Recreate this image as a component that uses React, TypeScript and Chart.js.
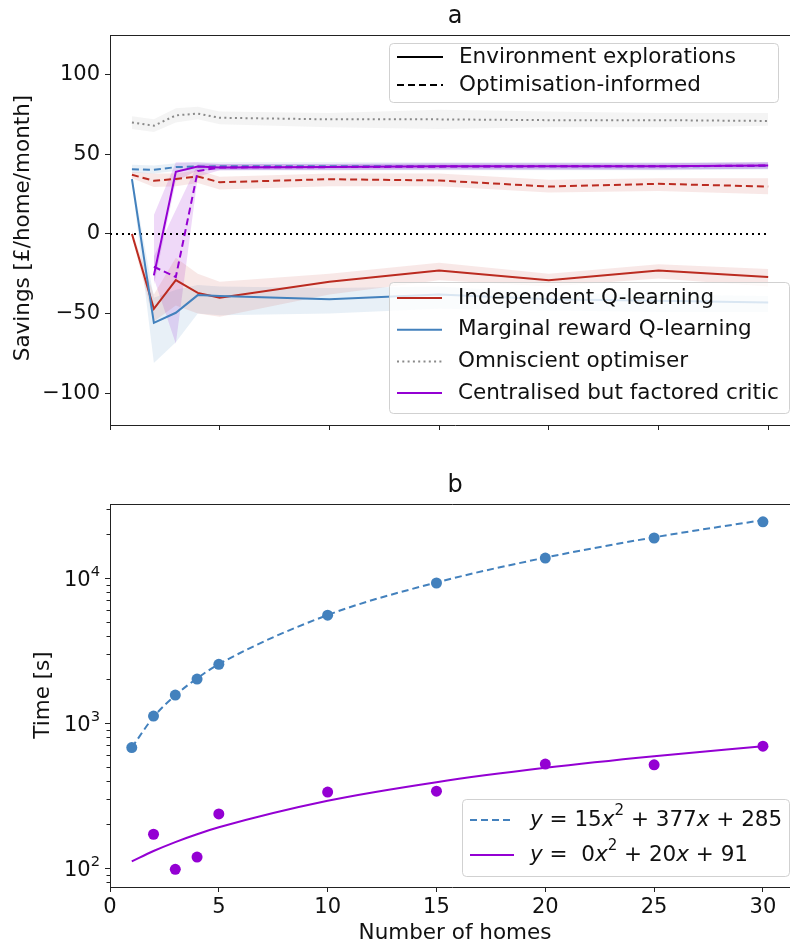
import React, { useEffect, useRef } from 'react';
import { Chart, registerables } from 'chart.js';
Chart.register(...registerables);

const FONT = '"DejaVu Sans", sans-serif';
const TXT = '#111';
const AX = '#222';

// ---------- panel a ----------
const homes = [1, 2, 3, 4, 5, 10, 15, 20, 25, 30];
const savingsTicks = [-100, -50, 0, 50, 100];
const homeTicks = [0, 5, 10, 15, 20, 25, 30];
const zeroLineX = [0, 30];

const iqlEnv = [0, -47, -29, -37, -40, -30, -23, -29, -23, -27];
const iqlEnvLo = [-2, -55, -45, -50, -52, -38, -29, -33, -28, -33];
const iqlEnvHi = [2, -38, -15, -25, -30, -25, -18, -25, -19, -22];

const mrqEnv = [34.4, -55.8, -49.5, -38.4, -39, -41, -38, -41, -42, -43];
const mrqEnvLo = [32, -81, -68, -50, -51, -50, -47, -48, -49, -49];
const mrqEnvHi = [37, -40, -35, -32, -33, -34, -33, -37, -38, -39];

const cfcEnv = [null, -26, 39, 42.4, 41.8, 42, 42.5, 42.5, 42.5, 43];
const cfcEnvLo = [null, -32, 33, 40, 40, 40.5, 40.5, 40.5, 40.5, 41];
const cfcEnvHi = [null, 12, 45, 45, 44, 44, 44.5, 44.5, 44.5, 45];

const cfcOpt = [null, -20.6, -27, 39.5, 41.8, 42, 42.3, 42.5, 42.5, 43];
const cfcOptLo = [null, -28, -69, 36, 40, 40, 40.5, 40.5, 40.5, 41];
const cfcOptHi = [null, -14, 15, 44, 44, 44, 44.5, 44.5, 44.5, 45];

const mrqOpt = [40.7, 40.3, 42, 42.4, 42.5, 42.5, 42.5, 42.5, 42.5, 42.8];
const mrqOptLo = [38.5, 38, 39.5, 40, 40, 40, 40, 40, 40, 40.5];
const mrqOptHi = [43.5, 43, 44.5, 45, 45, 45, 45, 45, 45, 45];

const iqlOpt = [37.2, 33.4, 34.6, 36.1, 32.5, 34.4, 33.6, 29.8, 31.5, 29.8];
const iqlOptLo = [35, 29.5, 30, 32, 28, 30, 30, 26, 27, 25];
const iqlOptHi = [39, 38, 38, 40, 36, 38, 38, 34, 35, 35];

const omni = [70, 68, 74.5, 75.6, 73, 72, 72, 71.5, 71.5, 71];
const omniLo = [66, 64, 70, 72, 69, 67, 66, 67, 67, 68];
const omniHi = [74, 72, 79, 80, 77, 76, 78, 77, 76, 76];

// ---------- panel b ----------
const timeTicks = [100, 1000, 10000];
const timeTickExp = ['2', '3', '4'];
const timeMinorTicks = [80, 90, 200, 300, 400, 500, 600, 700, 800, 900, 2000, 3000, 4000, 5000, 6000, 7000, 8000, 9000, 20000, 30000];
const mrqTime = [677, 1117, 1560, 2010, 2540, 5540, 9240, 13740, 18880, 24400];
const cfcTime = [null, 171, 98, 119, 236, 334, 339, 521, 515, 693];
const mrqFitCoef = [15, 377, 285];
const cfcFitCoef = [0, 20, 91];

const RED = '#bb2b20';
const BLUE = '#4381bd';
const PURPLE = '#9400d3';
const GREY = '#8a8a8a';
const DASH = [7, 4];
const DOT = [2, 3.3];

const W = 800; // axes extend slightly past the visible 790px
const XMAX = 31.45;
const FS = 21.5; // legend / labels
const TFS = 21; // tick labels

const pts = (ys: (number | null)[]) => homes.map((x, i) => ({ x, y: ys[i] }));
const poly = (c: number[], x: number) => c[0] * x * x + c[1] * x + c[2];

function line(ys: (number | null)[], color: string, dash: number[], order: number, width = 2) {
  return {
    type: 'line', data: pts(ys), borderColor: color, borderWidth: width, borderDash: dash,
    pointRadius: 0, fill: false, tension: 0, order, spanGaps: false,
  };
}
function band(lo: (number | null)[], hi: (number | null)[], fillColor: string, order: number) {
  return [
    { type: 'line', data: pts(lo), borderColor: 'rgba(0,0,0,0)', borderWidth: 0, pointRadius: 0, fill: false, order },
    { type: 'line', data: pts(hi), borderColor: 'rgba(0,0,0,0)', borderWidth: 0, pointRadius: 0, fill: '-1', backgroundColor: fillColor, order },
  ];
}

function legendBox(ctx: CanvasRenderingContext2D, x: number, y: number, w: number, h: number) {
  ctx.save();
  ctx.beginPath();
  (ctx as any).roundRect(x + 0.5, y + 0.5, w, h, 4);
  ctx.fillStyle = 'rgba(255,255,255,0.8)';
  ctx.fill();
  ctx.strokeStyle = 'rgba(204,204,204,0.9)';
  ctx.lineWidth = 1;
  ctx.stroke();
  ctx.restore();
}
function legendLine(ctx: CanvasRenderingContext2D, x1: number, x2: number, y: number, color: string, dash: number[]) {
  ctx.save();
  ctx.beginPath();
  ctx.setLineDash(dash);
  ctx.strokeStyle = color;
  ctx.lineWidth = 2;
  ctx.moveTo(x1, y);
  ctx.lineTo(x2, y);
  ctx.stroke();
  ctx.restore();
}
function text(ctx: CanvasRenderingContext2D, s: string, x: number, y: number, size: number, align: CanvasTextAlign = 'left', rot = 0) {
  ctx.save();
  ctx.translate(x, y);
  ctx.rotate(rot);
  ctx.font = `${size}px ${FONT}`;
  ctx.fillStyle = TXT;
  ctx.textAlign = align;
  ctx.textBaseline = 'middle';
  ctx.fillText(s, 0, 0);
  ctx.restore();
}
type Part = { t: string; i?: boolean; sup?: boolean };
function richWidth(ctx: CanvasRenderingContext2D, parts: Part[], size: number) {
  let w = 0;
  ctx.save();
  for (const p of parts) {
    const s = p.sup ? size * 0.7 : size;
    ctx.font = `${p.i ? 'italic ' : ''}${s}px ${FONT}`;
    w += ctx.measureText(p.t).width;
  }
  ctx.restore();
  return w;
}
function richText(ctx: CanvasRenderingContext2D, parts: Part[], x: number, y: number, size: number) {
  ctx.save();
  ctx.fillStyle = TXT;
  ctx.textBaseline = 'middle';
  ctx.textAlign = 'left';
  let cx = x;
  for (const p of parts) {
    const s = p.sup ? size * 0.7 : size;
    ctx.font = `${p.i ? 'italic ' : ''}${s}px ${FONT}`;
    ctx.fillText(p.t, cx, p.sup ? y - size * 0.4 : y);
    cx += ctx.measureText(p.t).width;
  }
  ctx.restore();
}
function topSpine(chart: any) {
  const { ctx, chartArea } = chart;
  ctx.save();
  ctx.strokeStyle = AX;
  ctx.lineWidth = 1;
  ctx.beginPath();
  ctx.moveTo(chartArea.left, chartArea.top + 0.5);
  ctx.lineTo(chartArea.right, chartArea.top + 0.5);
  ctx.stroke();
  ctx.restore();
}

const decorA = {
  id: 'decorA',
  afterDraw(chart: any) {
    const ctx = chart.ctx as CanvasRenderingContext2D;
    topSpine(chart);
    text(ctx, 'a', 455, 17, 24, 'center');
    text(ctx, 'Savings [£/home/month]', 23, 228, FS, 'center', -Math.PI / 2);
    legendBox(ctx, 389, 43, 389, 59);
    legendLine(ctx, 397, 443, 57, '#000', []);
    text(ctx, 'Environment explorations', 459, 57, FS);
    legendLine(ctx, 397, 443, 85, '#000', DASH);
    text(ctx, 'Optimisation-informed', 459, 85, FS);
    legendBox(ctx, 389, 282, 400, 131);
    const items: [string, string, number[]][] = [
      ['Independent Q-learning', RED, []],
      ['Marginal reward Q-learning', BLUE, []],
      ['Omniscient optimiser', GREY, DOT],
      ['Centralised but factored critic', PURPLE, []],
    ];
    items.forEach(([lab, col, d], k) => {
      const y = 298 + k * 31.7;
      legendLine(ctx, 397, 442, y, col, d);
      text(ctx, lab, 458, y, FS);
    });
  },
};

const decorB = {
  id: 'decorB',
  afterDraw(chart: any) {
    const ctx = chart.ctx as CanvasRenderingContext2D;
    const area = chart.chartArea;
    topSpine(chart);
    const ys = chart.scales.y;
    ctx.save();
    ctx.strokeStyle = AX;
    ctx.lineWidth = 1;
    for (const v of timeMinorTicks) {
      const py = Math.round(ys.getPixelForValue(v)) + 0.5;
      if (py < area.top || py > area.bottom) continue;
      ctx.beginPath();
      ctx.moveTo(area.left - 3.5, py);
      ctx.lineTo(area.left, py);
      ctx.stroke();
    }
    ctx.restore();
    timeTicks.forEach((v, k) => {
      const parts: Part[] = [{ t: '10' }, { t: timeTickExp[k], sup: true }];
      const w = richWidth(ctx, parts, TFS);
      richText(ctx, parts, 100 - w, ys.getPixelForValue(v) + 3, TFS);
    });
    text(ctx, 'b', 455, 16, 24, 'center');
    text(ctx, 'Time [s]', 43, 225, FS, 'center', -Math.PI / 2);
    text(ctx, 'Number of homes', 455, 463, FS, 'center');
    legendBox(ctx, 462, 329, 327, 77);
    legendLine(ctx, 470, 514, 350, BLUE, DASH);
    richText(ctx, [{ t: 'y', i: true }, { t: ' = 15' }, { t: 'x', i: true }, { t: '2', sup: true }, { t: ' + 377' }, { t: 'x', i: true }, { t: ' + 285' }], 530, 350, FS);
    legendLine(ctx, 470, 514, 385, PURPLE, []);
    richText(ctx, [{ t: 'y', i: true }, { t: ' =  0' }, { t: 'x', i: true }, { t: '2', sup: true }, { t: ' + 20' }, { t: 'x', i: true }, { t: ' + 91' }], 530, 385, FS);
  },
};

const minus = (v: number) => (v < 0 ? '\u2212' + Math.abs(v) : String(v));

function xScale(showLabels: boolean, height: number) {
  return {
    type: 'linear', min: 0, max: XMAX,
    afterBuildTicks: (s: any) => { s.ticks = homeTicks.map((v) => ({ value: v })); },
    afterFit: (s: any) => { s.height = height; },
    ticks: { display: showLabels, color: TXT, font: { family: FONT, size: TFS }, padding: 3, maxRotation: 0 },
    grid: { drawOnChartArea: false, tickLength: 5, color: AX, tickWidth: 1 },
    border: { color: AX, width: 1 },
  };
}

export default function App() {
  const refA = useRef<HTMLCanvasElement>(null);
  const refB = useRef<HTMLCanvasElement>(null);
  useEffect(() => {
    document.body.style.margin = '0';
    const dsA: any[] = [
      ...band(omniLo, omniHi, 'rgba(128,128,128,0.09)', 20),
      ...band(iqlEnvLo, iqlEnvHi, 'rgba(187,43,32,0.11)', 20),
      ...band(mrqEnvLo, mrqEnvHi, 'rgba(67,129,189,0.12)', 20),
      ...band(iqlOptLo, iqlOptHi, 'rgba(187,43,32,0.11)', 20),
      ...band(mrqOptLo, mrqOptHi, 'rgba(67,129,189,0.12)', 20),
      ...band(cfcEnvLo, cfcEnvHi, 'rgba(148,0,211,0.15)', 20),
      ...band(cfcOptLo, cfcOptHi, 'rgba(148,0,211,0.15)', 20),
      { type: 'line', data: zeroLineX.map((x) => ({ x, y: 0 })), borderColor: '#000', borderWidth: 2, borderDash: [2, 4], pointRadius: 0, fill: false, order: 6 },
      line(iqlEnv, RED, [], 5),
      line(iqlOpt, RED, DASH, 5),
      line(mrqEnv, BLUE, [], 4),
      line(mrqOpt, BLUE, DASH, 4),
      line(omni, GREY, DOT, 3),
      line(cfcEnv, PURPLE, [], 2),
      line(cfcOpt, PURPLE, DASH, 2),
    ];
    const chartA = new Chart(refA.current!, {
      type: 'line',
      data: { datasets: dsA },
      options: {
        responsive: false, animation: false, devicePixelRatio: 1, events: [],
        layout: { padding: { top: 35, left: 0, right: 0, bottom: 0 } },
        plugins: { legend: { display: false }, tooltip: { enabled: false } },
        scales: {
          x: xScale(false, 45),
          y: {
            type: 'linear', min: -120, max: 125,
            afterBuildTicks: (s: any) => { s.ticks = savingsTicks.map((v) => ({ value: v })); },
            afterFit: (s: any) => { s.width = 110; },
            ticks: { color: TXT, font: { family: FONT, size: TFS }, padding: 5, callback: (v: any) => minus(Number(v)) },
            grid: { drawOnChartArea: false, tickLength: 5, color: AX },
            border: { color: AX, width: 1 },
          },
        },
      } as any,
      plugins: [decorA],
    } as any);

    const fitPts = (c: number[]) => homes.map((x) => ({ x, y: poly(c, x) }));
    const chartB = new Chart(refB.current!, {
      type: 'line',
      data: {
        datasets: [
          { type: 'line', data: pts(mrqTime), showLine: false, pointRadius: 5.5, pointBackgroundColor: BLUE, pointBorderWidth: 0, order: 1 },
          { type: 'line', data: fitPts(mrqFitCoef), borderColor: BLUE, borderWidth: 2, borderDash: DASH, pointRadius: 0, cubicInterpolationMode: 'monotone', fill: false, order: 2 },
          { type: 'line', data: pts(cfcTime), showLine: false, pointRadius: 5.5, pointBackgroundColor: PURPLE, pointBorderWidth: 0, order: 1 },
          { type: 'line', data: fitPts(cfcFitCoef), borderColor: PURPLE, borderWidth: 2, pointRadius: 0, cubicInterpolationMode: 'monotone', fill: false, order: 2 },
        ],
      },
      options: {
        responsive: false, animation: false, devicePixelRatio: 1, events: [],
        layout: { padding: { top: 34, left: 0, right: 0, bottom: 0 } },
        plugins: { legend: { display: false }, tooltip: { enabled: false } },
        scales: {
          x: xScale(true, 58),
          y: {
            type: 'logarithmic', min: 74, max: 32400,
            afterBuildTicks: (s: any) => { s.ticks = timeTicks.map((v) => ({ value: v })); },
            afterFit: (s: any) => { s.width = 110; },
            ticks: { display: false },
            grid: { drawOnChartArea: false, tickLength: 5, color: AX },
            border: { color: AX, width: 1 },
          },
        },
      } as any,
      plugins: [decorB],
    } as any);
    return () => { chartA.destroy(); chartB.destroy(); };
  }, []);
  return (
    <div style={{ position: 'relative', width: 790, height: 945, background: '#fff', overflow: 'hidden' }}>
      <canvas ref={refA} width={W} height={470} style={{ position: 'absolute', left: 0, top: 0 }} />
      <canvas ref={refB} width={W} height={475} style={{ position: 'absolute', left: 0, top: 470 }} />
    </div>
  );
}
